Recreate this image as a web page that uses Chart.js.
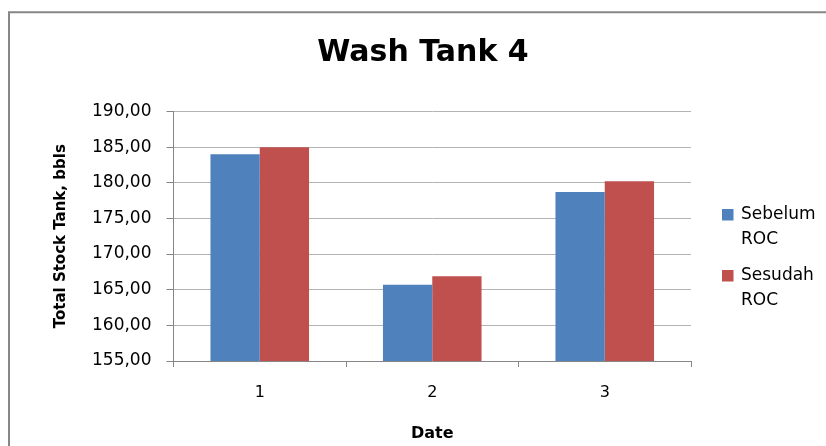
<!DOCTYPE html>
<html>
<head>
<meta charset="utf-8">
<title>Wash Tank 4</title>
<script src="https://cdn.jsdelivr.net/npm/chart.js@4/dist/chart.umd.min.js"></script>
<style>
  html, body { margin: 0; padding: 0; background: #ffffff; }
  canvas { display: block; }
</style>
</head>
<body>
<canvas id="chart" width="826" height="446"></canvas>
<script>
// Dates on the category axis
const dates = ['1', '2', '3'];
// Total stock tank (bbls) before and after ROC
const sebelumROC = [184.0, 165.7, 178.7];
const sesudahROC = [185.0, 166.9, 180.2];
// Value axis ticks
const yTicks = [155, 160, 165, 170, 175, 180, 185, 190];

const seriesNames = ['Sebelum ROC', 'Sesudah ROC'];
const seriesColors = ['#4F81BD', '#C0504D'];

const FONT = "'DejaVu Sans', sans-serif";
const AXIS_GREY = '#868686';
const GRID_GREY = '#b3b3b3';

// Outer frame of the chart object
const framePlugin = {
  id: 'frame',
  beforeDraw(chart) {
    const ctx = chart.ctx;
    ctx.save();
    ctx.strokeStyle = '#878787';
    ctx.lineWidth = 2;
    ctx.beginPath();
    ctx.moveTo(9, chart.height + 5);
    ctx.lineTo(9, 12.3);
    ctx.lineTo(chart.width + 5, 12.3);
    ctx.stroke();
    ctx.restore();
  }
};

// Legend on the right, each name broken over two lines
const sideLegend = {
  id: 'sideLegend',
  afterDraw(chart) {
    const ctx = chart.ctx;
    const x = chart.chartArea.right + 31;
    const firstY = 209;
    const itemGap = 61;
    const lineGap = 24.4;
    ctx.save();
    ctx.font = '17px ' + FONT;
    ctx.textBaseline = 'middle';
    ctx.textAlign = 'left';
    chart.data.datasets.forEach((ds, i) => {
      const top = firstY + i * itemGap;
      ctx.fillStyle = ds.backgroundColor;
      ctx.fillRect(x, top, 11.5, 11.5);
      ctx.fillStyle = '#000000';
      const words = ds.label.split(' ');
      words.forEach((w, j) => {
        ctx.fillText(w, x + 19, top + 6 + j * lineGap);
      });
    });
    ctx.restore();
  }
};

new Chart(document.getElementById('chart'), {
  type: 'bar',
  data: {
    labels: dates,
    datasets: [
      { label: seriesNames[0], data: sebelumROC, backgroundColor: seriesColors[0] },
      { label: seriesNames[1], data: sesudahROC, backgroundColor: seriesColors[1] }
    ]
  },
  plugins: [framePlugin, sideLegend],
  options: {
    responsive: false,
    animation: false,
    devicePixelRatio: 1,
    layout: { padding: { left: 20, right: 0, top: 0, bottom: 0 } },
    datasets: {
      bar: { categoryPercentage: 2 / 3.5, barPercentage: 1, borderWidth: 0 }
    },
    plugins: {
      legend: { display: false },
      tooltip: { enabled: false },
      title: {
        display: true,
        text: 'Wash Tank 4',
        color: '#000000',
        font: { family: FONT, size: 30, weight: 'bold', lineHeight: 1.2 },
        padding: { top: 35, bottom: 40.5 }
      }
    },
    scales: {
      x: {
        offset: true,
        grid: {
          offset: true,
          drawOnChartArea: false,
          color: AXIS_GREY,
          tickLength: 6
        },
        border: { color: AXIS_GREY, width: 1 },
        ticks: {
          color: '#000000',
          font: { family: FONT, size: 16 },
          padding: 16,
          maxRotation: 0
        },
        title: {
          display: true,
          text: 'Date',
          color: '#000000',
          font: { family: FONT, size: 16, weight: 'bold', lineHeight: 1.2 },
          padding: { top: 0, bottom: 3 }
        },
        afterFit(scale) { scale.height = 85; }
      },
      y: {
        min: yTicks[0],
        max: yTicks[yTicks.length - 1],
        afterBuildTicks(scale) {
          scale.ticks = yTicks.map(v => ({ value: v }));
        },
        grid: {
          color: GRID_GREY,
          tickColor: AXIS_GREY,
          tickLength: 7
        },
        border: { color: AXIS_GREY, width: 1 },
        ticks: {
          color: '#000000',
          font: { family: FONT, size: 17 },
          padding: 15,
          callback: v => v.toFixed(2).replace('.', ',')
        },
        title: {
          display: true,
          text: 'Total Stock Tank, bbls',
          color: '#000000',
          font: { family: FONT, size: 15, weight: 'bold', lineHeight: 1.2 },
          padding: { top: 32, bottom: 0 }
        },
        afterFit(scale) { scale.width = 153.5; }
      },
      // empty space reserved on the right for the legend
      legendSpace: {
        position: 'right',
        grid: { display: false, drawTicks: false },
        border: { display: false },
        ticks: { display: false },
        afterFit(scale) { scale.width = 135; }
      }
    }
  }
});
</script>
</body>
</html>
